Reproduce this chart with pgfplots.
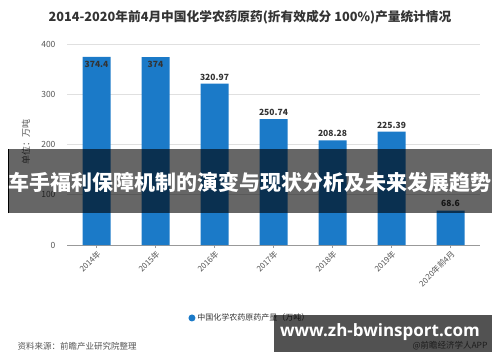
\documentclass[border=0pt]{standalone}
\usepackage{fontspec}
\setmainfont{Noto Sans CJK SC}
\newfontfamily\wmfont{Open Sans}
\usepackage{pgfplots}
\pgfplotsset{compat=1.18}
\definecolor{barblue}{HTML}{1B7AC8}
\definecolor{txtgray}{HTML}{555555}
\definecolor{titlegray}{HTML}{333333}
\begin{document}
\begin{tikzpicture}[x=1pt,y=1pt]
\useasboundingbox (0,0) rectangle (500,362);
\begin{axis}[
  at={(67pt,117pt)}, anchor=south west,
  width=413pt, height=201pt, scale only axis,
  xmin=-0.5, xmax=6.5, ymin=0, ymax=400,
  ytick={0,100,200,300,400},
  xtick={0,...,6},
  xticklabels={2014年,2015年,2016年,2017年,2018年,2019年,2020年前4月},
  /pgf/number format/assume math mode=true,
  ymajorgrids, grid style={draw=black!12, line width=0.6pt},
  axis x line*=bottom, axis y line*=left,
  y axis line style={draw=none},
  x axis line style={draw=black!40, line width=0.6pt},
  ytick style={draw=none},
  xtick style={draw=black!40},
  xtick align=outside, major tick length=3pt,
  yticklabel style={font=\fontsize{8.5}{9}\selectfont, text=txtgray, xshift=-8pt},
  xticklabel style={rotate=45, anchor=north east, font=\fontsize{8}{9}\selectfont, text=txtgray, inner sep=1pt},
  ybar, bar width=28pt,
  nodes near coords,
  every node near coord/.append style={font=\bfseries\fontsize{8.5}{9}\selectfont, text=titlegray, /pgf/number format/assume math mode=true},
  coordinate style/.condition={y>350}{anchor=north, yshift=-1pt},
  legend style={at={(0.443,-0.363)}, anchor=center, draw=none, fill=none, font=\fontsize{8}{9}\selectfont, text=titlegray},
  legend image code/.code={\fill[barblue] (0.1cm,0) circle (3.5pt);},
]
\addplot[fill=barblue, draw=none] coordinates {
  (0,374.4) (1,374) (2,320.97) (3,250.74) (4,208.28) (5,225.39) (6,68.6)
};
\addlegendentry{中国化学农药原药产量（万吨）}
\end{axis}
% title
\node[font=\bfseries\fontsize{12.7}{13}\selectfont, text=titlegray] at (250,345) {2014-2020年前4月中国化学农药原药(折有效成分 100\%)产量统计情况};
% y label
\node[rotate=90, font=\fontsize{9}{10}\selectfont, text=txtgray] at (26,220) {单位：万吨};
% source
\node[anchor=west, font=\fontsize{8.5}{9}\selectfont, text=txtgray] at (14,16) {资料来源：前瞻产业研究院整理};
\node[anchor=east, font=\fontsize{8.5}{9}\selectfont, text=txtgray] at (491,16) {@前瞻经济学人APP};
% banner
\fill[black, opacity=0.6] (8,149) rectangle (492,213);
\draw[black, line width=0.8pt] (8.4,149) -- (8.4,213);
\node[text=white, font=\bfseries\fontsize{21}{22}\selectfont, inner sep=0pt] at (250,180) {车手福利保障机制的演变与现状分析及未来发展趋势};
% watermark box
\fill[black, opacity=0.68] (274,10) rectangle (492,47);
\node[text=white, font=\wmfont\bfseries\fontsize{17}{18}\selectfont, inner sep=0pt] at (380,30) {www.zh-bwinsport.com};
\end{tikzpicture}
\end{document}
